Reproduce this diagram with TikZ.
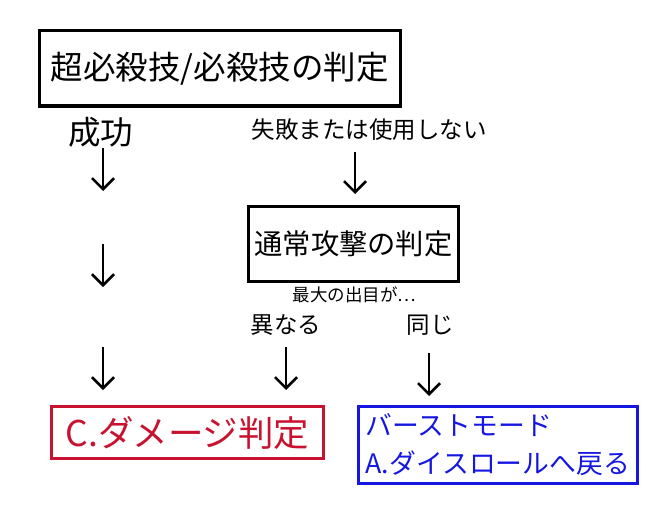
\documentclass[tikz,border=0pt]{standalone}
\usepackage{fontspec}
\setmainfont{Noto Sans CJK JP}
\usetikzlibrary{arrows.meta}
\newcommand{\fsz}[1]{\fontsize{#1}{#1}\selectfont}
\definecolor{damagered}{RGB}{200,18,48}
\definecolor{burstblue}{RGB}{22,22,225}
\begin{document}
\begin{tikzpicture}[x=1pt, y=-1pt,
    judgement/.style ={draw, line width=3.5pt, inner sep=0pt},
    tag/.style ={inner sep=0pt},
    down/.style ={line width=2.6pt, -{Straight Barb[length=11pt, width=22pt]}}]
   \useasboundingbox (0,0) rectangle (665,519);
   \node[judgement, minimum width=361pt, minimum height=75.5pt, font=\fsz{32.5}] (special) at (219.75,68.5) {超必殺技/必殺技の判定};
   \node[tag, font=\fsz{32.5}] (success) at (100.5,132.5) {成功};
   \node[tag, font=\fsz{23.5}] (fail) at (369,130) {失敗または使用しない};
   \node[judgement, line width=3pt, minimum width=210pt, minimum height=75pt, font=\fsz{28.3}] (normal) at (353.5,244) {通常攻撃の判定};
   \node[tag, font=\fsz{17.5}] (maxroll) at (354.5,295) {最大の出目が…};
   \node[tag, font=\fsz{23.5}] (differ) at (286,325.5) {異なる};
   \node[tag, font=\fsz{23.5}] (same) at (430,325.5) {同じ};
   \node[judgement, line width=3pt, draw=damagered, text=damagered, minimum width=272pt, minimum height=52pt, font=\fsz{35.5}] (damage) at (187.5,432.5) {C.ダメージ判定};
   \node[judgement, line width=3pt, draw=burstblue, text=burstblue, minimum width=278.5pt, minimum height=77pt, align=left, font=\fontsize{26.8}{38}\selectfont] (burst) at (497.75,445) {バーストモード\\A.ダイスロールへ戻る};
   \coordinate (a1) at (103,148);  \coordinate (a2) at (103,191);
   \coordinate (a3) at (103,244);  \coordinate (a4) at (103,287);
   \coordinate (a5) at (103,347);  \coordinate (a6) at (103,390);
   \coordinate (b1) at (355,152);  \coordinate (b2) at (355,194);
   \coordinate (b3) at (286,347);  \coordinate (b4) at (286,390);
   \coordinate (c1) at (429,353);  \coordinate (c2) at (429,396);
   \draw[down] (a1) -- (a2);
   \draw[down] (a3) -- (a4);
   \draw[down] (a5) -- (a6);
   \draw[down] (b1) -- (b2);
   \draw[down] (b3) -- (b4);
   \draw[down] (c1) -- (c2);
\end{tikzpicture}
\end{document}
